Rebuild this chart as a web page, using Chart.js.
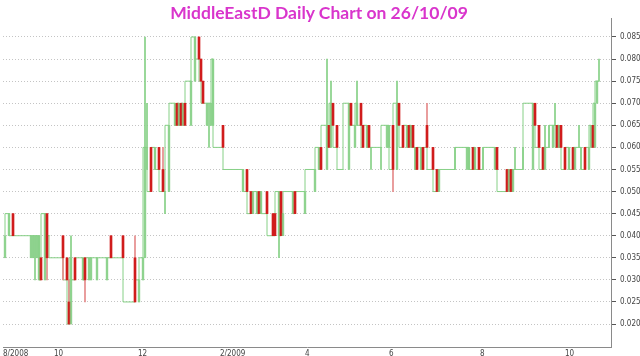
<!DOCTYPE html>
<html><head><meta charset="utf-8">
<script src="https://cdn.jsdelivr.net/npm/chart.js@4.4.1/dist/chart.umd.min.js"></script>
<style>
html,body{margin:0;padding:0;background:#fff;}
#wrap{position:relative;width:640px;height:356px;overflow:hidden;}
#title{position:absolute;left:0;top:3px;width:638px;text-align:center;font-family:Lato,"Open Sans",sans-serif;font-weight:bold;font-size:17.5px;line-height:20px;color:#d935cc;}
canvas{position:absolute;left:0;top:0;}
</style></head><body>
<div id="wrap"><canvas id="c" width="640" height="356"></canvas><div id="title">MiddleEastD Daily Chart on 26/10/09</div></div>
<script>
// trading-day index of each candle (from start of Aug 2008)
const days   = [1,3,5,14,15,16,17,18,19,21,22,23,30,32,33,34,36,40,41,43,44,47,52,54,60,66,68,70,71,72,74,76,78,80,81,83,86,87,88,89,90,91,94,96,98,99,100,102,103,104,105,110,117,120,122,124,125,127,128,129,132,135,136,138,139,140,145,146,151,156,158,159,162,163,164,165,167,170,173,174,176,177,179,180,182,183,184,189,192,193,195,197,198,200,202,203,204,205,206,207,209,210,212,215,217,218,226,232,233,235,236,238,240,246,247,252,253,254,255,256,260,265,266,268,270,271,273,275,276,277,278,279,281,283,285,286,288,289,291,293,294,295,296,297,298];
const opens  = [0.035,0.040,0.045,0.035,0.035,0.035,0.035,0.030,0.035,0.030,0.045,0.040,0.040,0.035,0.025,0.020,0.035,0.030,0.035,0.030,0.030,0.030,0.030,0.040,0.040,0.035,0.025,0.030,0.035,0.060,0.060,0.055,0.060,0.055,0.050,0.050,0.065,0.070,0.065,0.070,0.065,0.070,0.065,0.075,0.085,0.080,0.075,0.065,0.070,0.065,0.065,0.065,0.055,0.050,0.055,0.050,0.045,0.045,0.050,0.045,0.050,0.045,0.045,0.040,0.050,0.040,0.045,0.050,0.045,0.050,0.055,0.060,0.055,0.065,0.060,0.070,0.065,0.055,0.055,0.070,0.060,0.065,0.070,0.065,0.060,0.065,0.060,0.060,0.060,0.060,0.065,0.055,0.070,0.065,0.060,0.065,0.060,0.065,0.060,0.060,0.055,0.060,0.065,0.060,0.055,0.050,0.055,0.055,0.055,0.060,0.055,0.060,0.055,0.055,0.060,0.055,0.050,0.055,0.050,0.055,0.055,0.055,0.070,0.065,0.060,0.055,0.060,0.060,0.065,0.065,0.060,0.065,0.060,0.055,0.060,0.055,0.060,0.060,0.060,0.055,0.060,0.065,0.060,0.070,0.075];
const highs  = [0.040,0.045,0.045,0.040,0.040,0.040,0.040,0.040,0.035,0.045,0.045,0.040,0.040,0.035,0.030,0.040,0.035,0.035,0.035,0.035,0.035,0.035,0.035,0.040,0.040,0.040,0.030,0.035,0.085,0.070,0.060,0.060,0.060,0.060,0.050,0.065,0.070,0.070,0.070,0.070,0.070,0.070,0.075,0.085,0.085,0.080,0.075,0.070,0.070,0.070,0.080,0.065,0.055,0.055,0.055,0.050,0.050,0.050,0.050,0.050,0.050,0.045,0.045,0.050,0.050,0.045,0.050,0.050,0.050,0.055,0.060,0.060,0.080,0.065,0.075,0.070,0.065,0.055,0.070,0.070,0.065,0.075,0.070,0.065,0.065,0.065,0.060,0.060,0.065,0.065,0.065,0.075,0.070,0.065,0.065,0.065,0.065,0.065,0.060,0.060,0.060,0.060,0.070,0.060,0.055,0.055,0.060,0.060,0.060,0.060,0.060,0.060,0.060,0.060,0.060,0.055,0.055,0.055,0.055,0.060,0.060,0.070,0.070,0.065,0.060,0.065,0.065,0.065,0.070,0.065,0.065,0.065,0.060,0.060,0.060,0.060,0.065,0.060,0.060,0.060,0.065,0.065,0.070,0.075,0.080];
const lows   = [0.035,0.040,0.040,0.035,0.035,0.030,0.035,0.030,0.030,0.030,0.030,0.040,0.030,0.030,0.020,0.020,0.030,0.030,0.025,0.030,0.030,0.030,0.030,0.035,0.035,0.025,0.025,0.030,0.035,0.055,0.050,0.055,0.055,0.050,0.045,0.050,0.065,0.065,0.065,0.065,0.065,0.065,0.065,0.075,0.080,0.075,0.070,0.065,0.060,0.065,0.065,0.060,0.055,0.050,0.050,0.045,0.045,0.045,0.045,0.045,0.045,0.040,0.040,0.035,0.040,0.040,0.045,0.045,0.045,0.050,0.055,0.055,0.055,0.060,0.060,0.065,0.060,0.055,0.055,0.065,0.060,0.065,0.065,0.060,0.060,0.060,0.055,0.055,0.060,0.060,0.050,0.055,0.065,0.060,0.060,0.060,0.060,0.060,0.055,0.055,0.055,0.055,0.060,0.055,0.050,0.050,0.055,0.055,0.055,0.055,0.055,0.055,0.055,0.055,0.055,0.050,0.050,0.050,0.050,0.055,0.055,0.055,0.065,0.060,0.055,0.055,0.060,0.060,0.065,0.060,0.060,0.060,0.055,0.055,0.055,0.055,0.060,0.055,0.055,0.055,0.060,0.060,0.060,0.070,0.075];
const closes = [0.040,0.045,0.040,0.040,0.040,0.040,0.040,0.040,0.030,0.045,0.035,0.040,0.035,0.030,0.020,0.035,0.030,0.035,0.030,0.035,0.035,0.035,0.035,0.035,0.035,0.025,0.030,0.035,0.060,0.060,0.050,0.060,0.055,0.050,0.050,0.065,0.070,0.065,0.070,0.065,0.070,0.065,0.075,0.085,0.080,0.075,0.070,0.070,0.070,0.070,0.080,0.060,0.055,0.055,0.050,0.045,0.050,0.050,0.045,0.050,0.045,0.040,0.040,0.050,0.040,0.045,0.050,0.045,0.050,0.055,0.060,0.055,0.065,0.060,0.070,0.065,0.060,0.055,0.070,0.065,0.065,0.070,0.065,0.060,0.065,0.060,0.060,0.060,0.065,0.065,0.055,0.070,0.065,0.060,0.065,0.060,0.065,0.060,0.060,0.055,0.060,0.055,0.060,0.055,0.050,0.055,0.055,0.060,0.060,0.055,0.060,0.055,0.055,0.060,0.055,0.050,0.055,0.050,0.055,0.055,0.055,0.070,0.065,0.060,0.055,0.060,0.060,0.065,0.065,0.060,0.065,0.060,0.055,0.060,0.055,0.060,0.060,0.060,0.055,0.060,0.065,0.060,0.070,0.075,0.075];

const xTickDays   = [0, 25.5, 67.5, 108.5, 151, 193, 238.5, 281];
const xTickLabels = ['8/2008', '10', '12', '2/2009', '4', '6', '8', '10'];
const yTickValues = [0.020,0.025,0.030,0.035,0.040,0.045,0.050,0.055,0.060,0.065,0.070,0.075,0.080,0.085];

const GREEN = '#86d086', RED = '#d01c1c', PINK = '#e58a8a';
const isUp = i => closes[i] >= opens[i];
const bodyData = days.map((d, i) => ({x: d, y: [opens[i], closes[i]]}));
const wickData = days.map((d, i) => ({x: d, y: [lows[i], highs[i]]}));
const lineData = days.map((d, i) => ({x: d, y: closes[i]}));
const FONT = "'Liberation Sans Narrow', 'DejaVu Sans Condensed', 'Arial Narrow', sans-serif";

new Chart(document.getElementById('c'), {
  type: 'bar',
  data: {
    datasets: [
      {type: 'line', data: lineData, stepped: 'after', borderColor: GREEN, borderWidth: 1,
       pointRadius: 0, fill: false, order: 3},
      {data: wickData, barThickness: 1, grouped: false, order: 2, borderWidth: 0,
       backgroundColor: c => isUp(c.dataIndex) ? GREEN : PINK},
      {data: bodyData, barThickness: 2, grouped: false, order: 1, borderWidth: 0,
       backgroundColor: c => isUp(c.dataIndex) ? 'rgba(134,208,134,0.55)' : RED}
    ]
  },
  options: {
    responsive: false, animation: false, devicePixelRatio: 1,
    layout: {padding: {left: 3, top: 18, right: 0, bottom: 0}},
    plugins: {legend: {display: false}, tooltip: {enabled: false}, title: {display: false}},
    scales: {
      x: {
        type: 'linear', min: 0, max: 304, offset: false,
        grid: {display: false, drawTicks: false},
        border: {display: true, color: '#8a8a8a'},
        ticks: {autoSkip: false, maxRotation: 0, align: 'start', padding: 2,
                color: '#444', font: {family: FONT, size: 8},
                callback: v => { const k = xTickDays.indexOf(v); return k >= 0 ? xTickLabels[k] : ''; }},
        afterBuildTicks: s => { s.ticks = xTickDays.map(v => ({value: v})); },
        afterFit: s => { s.height = 9; }
      },
      y: {
        position: 'right', min: 0.0148, max: 0.0893,
        grid: {color: '#c4c4c4', lineWidth: 1, drawTicks: true, tickLength: 5,
               tickColor: '#555', tickBorderDash: []},
        border: {display: true, color: '#8a8a8a', dash: [1, 2]},
        ticks: {padding: 4, color: '#444', font: {family: FONT, size: 8},
                callback: v => Number(v).toFixed(3)},
        afterBuildTicks: s => { s.ticks = yTickValues.map(v => ({value: v})); },
        afterFit: s => { s.width = 29; }
      }
    }
  }
});
</script>
</body></html>
